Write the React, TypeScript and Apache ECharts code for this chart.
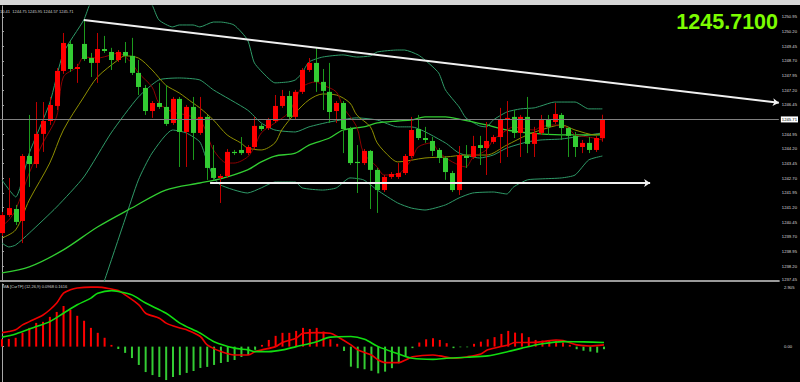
import React, { useEffect, useRef } from 'react';
import * as echarts from 'echarts';

// ---- candles ----
const opens = [1239.90,1240.82,1241.13,1240.52,1243.84,1243.43,1244.97,1245.63,1246.40,1248.19,1249.57,1248.29,1249.57,1248.85,1248.60,1249.31,1249.16,1248.75,1249.16,1248.96,1248.09,1247.32,1246.14,1246.55,1246.35,1245.53,1246.76,1245.07,1246.35,1245.02,1245.84,1243.23,1242.72,1242.82,1244.05,1244.15,1243.99,1244.30,1245.38,1245.27,1245.63,1246.40,1246.91,1245.84,1247.12,1248.24,1248.60,1247.63,1247.12,1246.14,1246.55,1245.22,1243.54,1243.48,1244.10,1243.13,1242.10,1242.77,1242.77,1242.97,1243.84,1245.22,1244.76,1244.61,1244.15,1243.74,1242.97,1242.10,1243.84,1243.79,1244.40,1244.25,1244.56,1244.81,1245.68,1245.84,1245.02,1245.84,1244.46,1245.02,1245.73,1245.58,1245.94,1245.27,1244.87,1244.30,1244.51,1244.15,1244.75];
const closes = [1240.82,1241.18,1240.47,1243.84,1243.43,1244.97,1245.63,1246.45,1248.19,1249.62,1248.29,1248.39,1248.80,1248.60,1249.31,1249.21,1248.75,1249.16,1248.96,1248.09,1247.37,1246.14,1246.55,1246.35,1245.48,1246.76,1245.07,1246.35,1245.02,1245.84,1243.23,1242.72,1242.82,1244.05,1243.99,1243.99,1244.30,1245.38,1245.22,1245.68,1246.40,1246.91,1245.84,1247.12,1248.24,1248.60,1247.63,1247.17,1246.09,1246.55,1245.22,1243.48,1243.48,1244.10,1243.13,1242.10,1242.77,1242.92,1242.97,1243.84,1245.17,1244.76,1244.66,1244.10,1243.74,1243.02,1242.10,1243.89,1243.74,1244.35,1244.25,1244.61,1244.81,1245.73,1245.79,1245.02,1245.84,1244.46,1245.02,1245.68,1245.33,1245.99,1245.27,1244.87,1244.30,1244.51,1244.15,1244.76,1245.71];
const lows = [1239.75,1240.72,1240.31,1239.39,1242.26,1243.23,1244.05,1245.43,1246.19,1248.04,1248.14,1247.58,1248.70,1247.88,1247.58,1249.11,1248.24,1248.65,1248.60,1247.98,1246.96,1245.94,1245.79,1246.25,1245.38,1245.43,1243.28,1243.28,1243.64,1244.92,1242.62,1242.62,1241.44,1242.72,1243.89,1243.89,1243.89,1244.20,1245.12,1245.17,1245.53,1246.30,1245.68,1245.73,1247.01,1248.14,1247.12,1246.19,1245.53,1245.53,1243.99,1243.38,1241.95,1243.38,1241.13,1240.93,1242.00,1242.67,1242.67,1242.87,1243.74,1244.66,1244.51,1243.84,1243.48,1242.62,1242.00,1241.85,1243.23,1243.69,1243.38,1242.87,1244.46,1243.48,1243.79,1244.76,1243.79,1243.99,1243.79,1244.92,1244.92,1245.48,1244.66,1243.79,1243.79,1243.99,1243.99,1244.05,1244.57];
const highs = [1240.98,1242.72,1241.34,1243.94,1245.94,1246.60,1246.60,1246.86,1248.34,1250.13,1249.72,1248.55,1250.80,1249.11,1250.13,1249.98,1249.37,1249.26,1249.67,1249.88,1248.75,1247.47,1246.65,1247.58,1247.47,1246.86,1246.86,1246.45,1246.86,1246.86,1245.94,1244.40,1242.92,1244.20,1244.15,1244.81,1244.40,1245.84,1245.48,1245.79,1246.96,1247.22,1247.17,1247.22,1248.34,1248.85,1249.37,1248.29,1248.60,1246.65,1246.65,1245.33,1244.40,1244.20,1244.15,1243.23,1242.87,1243.02,1243.48,1243.94,1245.84,1245.94,1245.33,1244.81,1244.25,1243.84,1243.08,1244.35,1244.40,1244.87,1244.87,1245.58,1244.92,1246.30,1246.65,1246.19,1245.94,1246.86,1245.33,1245.94,1245.94,1246.55,1246.04,1245.33,1245.07,1244.66,1244.81,1244.87,1245.95];

// ---- indicators, [bar index, value] ----
const bbUpper = [[0,1242.61],[2,1241.75],[4,1243.99],[7,1246.55],[9,1249.11],[12,1250.80],[13,1251.67],[15,1252.23],[17,1252.43],[19,1252.33],[21,1251.92],[22,1251.56],[23,1250.80],[25,1250.44],[26,1250.54],[28,1250.54],[29,1250.44],[31,1250.69],[32,1250.69],[34,1250.54],[36,1249.77],[37,1248.60],[39,1247.83],[40,1247.58],[42,1247.63],[43,1247.73],[44,1248.09],[45,1248.65],[47,1248.90],[50,1249.01],[52,1248.90],[54,1248.96],[55,1249.16],[58,1249.26],[59,1249.26],[61,1249.01],[62,1248.75],[64,1248.09],[65,1247.22],[67,1246.35],[68,1245.79],[70,1245.38],[71,1245.33],[72,1245.68],[74,1246.09],[76,1246.25],[78,1246.30],[79,1246.40],[81,1246.60],[84,1246.60],[86,1246.25],[88,1246.25]];
const bbMiddle = [[0,1239.39],[1,1239.19],[2,1239.29],[4,1239.90],[8,1241.23],[12,1242.77],[16,1245.02],[20,1246.86],[23,1247.73],[26,1247.83],[29,1247.73],[31,1247.22],[36,1246.19],[38,1245.53],[40,1245.17],[43,1245.07],[45,1245.33],[48,1245.58],[52,1245.79],[55,1245.68],[58,1245.33],[60,1245.33],[65,1244.51],[67,1243.99],[70,1243.74],[72,1243.89],[74,1244.25],[77,1244.56],[79,1244.66],[82,1244.71],[84,1244.81],[88,1245.02]];
const bbLower = [[0,1236.48],[6,1234.94],[10,1234.18],[13,1235.46],[15,1237.45],[18,1240.57],[20,1242.62],[22,1243.99],[25,1245.17],[27,1245.02],[29,1244.56],[30,1243.64],[31,1242.77],[32,1242.36],[36,1241.95],[38,1242.21],[40,1242.51],[43,1242.51],[44,1242.21],[47,1242.10],[49,1242.21],[51,1242.72],[53,1242.62],[55,1242.10],[58,1241.44],[60,1241.18],[62,1241.08],[65,1241.34],[67,1241.70],[69,1241.95],[72,1242.00],[74,1241.90],[75,1242.26],[77,1242.62],[79,1242.67],[82,1242.72],[84,1242.87],[86,1243.64],[88,1243.84]];
const maSlow = [[0,1237.86],[4,1238.17],[9,1239.04],[14,1240.21],[19,1241.18],[24,1242.10],[29,1242.46],[32,1242.67],[36,1243.13],[38,1243.54],[40,1243.84],[43,1243.99],[45,1244.40],[48,1244.76],[50,1245.17],[53,1245.33],[55,1245.53],[58,1245.63],[60,1245.68],[62,1245.84],[65,1245.84],[67,1245.73],[71,1245.43],[74,1245.17],[77,1245.02],[82,1244.92],[88,1244.92]];
const maFast = [[0,1240.26],[1,1240.57],[2,1241.08],[4,1242.97],[6,1244.51],[8,1245.84],[9,1247.88],[11,1248.39],[12,1248.90],[14,1248.85],[16,1249.01],[17,1249.11],[19,1248.60],[20,1248.09],[22,1247.37],[23,1246.55],[25,1246.09],[27,1245.94],[29,1245.68],[30,1245.02],[31,1244.15],[33,1243.48],[34,1243.48],[36,1243.79],[37,1244.30],[38,1245.02],[40,1245.53],[42,1246.04],[43,1246.71],[44,1247.37],[46,1247.63],[47,1247.47],[49,1247.12],[50,1246.35],[52,1245.33],[53,1243.99],[55,1243.28],[56,1242.87],[58,1242.92],[60,1243.64],[61,1244.30],[63,1244.51],[64,1244.05],[66,1243.54],[68,1243.28],[69,1243.74],[71,1244.15],[72,1244.66],[74,1245.17],[75,1245.33],[76,1245.27],[78,1245.17],[79,1245.33],[81,1245.43],[83,1245.27],[84,1244.92],[86,1244.81],[88,1244.66]];
const maMid = [[0,1239.65],[2,1240.06],[4,1241.59],[7,1243.48],[9,1245.17],[12,1246.86],[14,1247.88],[17,1248.75],[18,1248.96],[20,1248.85],[22,1248.24],[24,1247.47],[26,1247.06],[28,1246.55],[29,1246.30],[31,1245.68],[33,1244.92],[35,1244.51],[36,1244.25],[38,1244.15],[40,1244.51],[41,1245.17],[43,1246.04],[45,1246.71],[47,1247.01],[49,1246.96],[51,1246.55],[52,1245.94],[54,1245.33],[55,1244.51],[57,1243.74],[58,1243.54],[62,1243.74],[65,1243.79],[68,1243.89],[71,1243.89],[74,1244.40],[77,1244.92],[79,1245.17],[82,1245.43],[84,1245.17],[87,1244.92],[88,1245.02]];

// ---- MACD panel ----
const macdHist = [0.34,0.36,0.41,0.64,0.87,1.10,1.15,1.38,1.61,1.89,1.71,1.43,1.20,0.87,0.64,0.41,0.08,-0.11,-0.29,-0.53,-0.85,-1.18,-1.32,-1.41,-1.55,-1.41,-1.32,-1.22,-1.13,-0.99,-0.94,-0.85,-0.76,-0.71,-0.62,-0.48,-0.39,-0.15,0.08,0.31,0.50,0.64,0.64,0.73,0.87,0.82,0.87,0.70,0.34,0.13,-0.20,-0.93,-1.00,-1.05,-1.12,-1.24,-1.16,-1.00,-0.77,-0.47,-0.07,0.19,0.34,0.39,0.31,0.16,-0.07,-0.03,-0.03,0.13,0.23,0.34,0.44,0.59,0.73,0.65,0.62,0.44,0.31,0.28,0.28,0.28,0.19,0.08,-0.12,-0.19,-0.23,-0.28,-0.12];
const macdRed = [[0,0.65],[1,0.70],[2,0.78],[3,1.01],[4,1.16],[6,1.47],[7,1.71],[8,2.02],[9,2.48],[10,2.64],[11,2.72],[13,2.76],[14,2.76],[16,2.67],[17,2.60],[18,2.40],[20,1.94],[21,1.55],[23,1.32],[24,1.09],[26,0.86],[27,0.78],[29,0.47],[30,0.08],[32,-0.23],[34,-0.39],[36,-0.39],[37,-0.23],[38,-0.15],[40,0.00],[41,0.19],[43,0.39],[44,0.62],[46,0.65],[48,0.62],[49,0.47],[51,0.08],[52,-0.15],[54,-0.39],[55,-0.62],[56,-0.74],[58,-0.74],[59,-0.62],[60,-0.47],[63,-0.39],[64,-0.43],[66,-0.54],[68,-0.47],[70,-0.34],[71,-0.15],[74,0.08],[75,0.19],[77,0.19],[79,0.23],[81,0.31],[82,0.28],[84,0.08],[86,0.03],[88,0.08]];
const macdGreen = [[0,0.44],[2,0.59],[5,0.93],[7,1.16],[9,1.55],[11,1.94],[13,2.25],[14,2.48],[16,2.60],[17,2.56],[19,2.40],[21,2.02],[24,1.55],[26,1.09],[29,0.62],[31,0.23],[34,-0.07],[36,-0.15],[37,-0.23],[39,-0.23],[41,-0.15],[43,0.00],[46,0.23],[48,0.44],[51,0.47],[53,0.34],[55,0.00],[58,-0.34],[60,-0.54],[63,-0.59],[65,-0.54],[68,-0.49],[71,-0.43],[74,-0.23],[76,-0.07],[79,0.13],[82,0.23],[85,0.22],[88,0.19]];

// ---- drawn objects & labels ----
const downTrend = [[12, 1250.80], [113.87, 1246.56]];
const supportLine = [[30.5, 1242.46], [95.0, 1242.46]];
const lastPrice = 1245.71;
const priceTicks = [1237.45,1238.20,1238.95,1239.70,1240.45,1241.20,1241.95,1242.70,1243.45,1244.20,1244.95,1246.45,1247.20,1247.95,1248.70,1249.45,1250.20,1250.95];
const macdTicks = [0, 2.905];
const macdTickLabels = ['0.00', '2.905'];
const ohlcText = '10.41  1244.75 1245.95 1244.57 1245.71';
const macdTitle = 'MA [CurTF] (12,26,9) 0.0968 0.1616';
const bigPrice = '1245.7100';

const X_MIN = -0.29;
const X_MAX = 113.87;
const FONT = "'Liberation Sans', Arial, sans-serif";

export default function App() {
  const ref = useRef<HTMLDivElement>(null);
  useEffect(() => {
    if (!ref.current) return;
    const chart = echarts.init(ref.current, null, { renderer: 'svg' });
    const candles = opens.map((o, i) => [i, o, closes[i], lows[i], highs[i]]);
    const hist = macdHist.map((v, i) => [i, v]);
    const lineS = (name: string, data: number[][], color: string, width: number, smooth = 0.3) => ({
      name, type: 'line', data, xAxisIndex: 0, yAxisIndex: 0, symbol: 'none', smooth,
      lineStyle: { color, width }, clip: true, silent: true, z: 2,
    });
    const bb = '#2f9a68';
    chart.setOption({
      animation: false,
      backgroundColor: '#000000',
      grid: [
        { left: 0, right: 19, top: 6, bottom: 101 },
        { left: 0, right: 19, top: 284, bottom: 0 },
      ],
      xAxis: [
        { type: 'value', gridIndex: 0, min: X_MIN, max: X_MAX, axisLabel: { show: false }, axisTick: { show: false }, splitLine: { show: false },
          axisLine: { show: true, onZero: false, lineStyle: { color: '#9a9a9a', width: 2 } } },
        { type: 'value', gridIndex: 1, min: X_MIN, max: X_MAX, axisLabel: { show: false }, axisTick: { show: false }, splitLine: { show: false }, axisLine: { show: false } },
      ],
      yAxis: [
        { type: 'value', gridIndex: 0, position: 'right', min: 1237.45, max: 1251.51, splitLine: { show: false },
          axisLine: { show: true, lineStyle: { color: '#a8a8a8' } },
          axisTick: { show: true, length: 2, customValues: priceTicks, lineStyle: { color: '#a8a8a8' } },
          axisLabel: { customValues: priceTicks, formatter: (v: number) => (v === 1237.45 ? '{lo|' + v.toFixed(2) + '}' : v.toFixed(2)), fontSize: 4.2, color: '#dcdcdc', margin: 3, fontFamily: FONT,
            rich: { lo: { fontSize: 4.2, color: '#dcdcdc', fontFamily: FONT, padding: [0, 0, 3, 0] } } } },
        { type: 'value', gridIndex: 1, position: 'right', min: -1.641, max: 2.905, splitLine: { show: false },
          axisLine: { show: true, lineStyle: { color: '#a8a8a8' } },
          axisTick: { show: true, length: 2, customValues: macdTicks, lineStyle: { color: '#a8a8a8' } },
          axisLabel: { customValues: macdTicks, formatter: (v: number) => {
              const t = macdTickLabels[macdTicks.indexOf(v)] ?? String(v);
              return v === 2.905 ? '{hi|' + t + '}' : t;
            }, fontSize: 4.2, color: '#dcdcdc', margin: 3, fontFamily: FONT,
            rich: { hi: { fontSize: 4.2, color: '#dcdcdc', fontFamily: FONT, padding: [6, 0, 0, 0] } } } },
      ],
      series: [
        lineS('BB upper', bbUpper, bb, 1, 0.2),
        lineS('BB middle', bbMiddle, bb, 1, 0.2),
        lineS('BB lower', bbLower, bb, 1, 0.2),
        { ...lineS('MA slow', maSlow, '#32cd32', 1.3),
          markLine: { silent: true, symbol: 'none', animation: false,
            lineStyle: { color: '#808080', width: 1, type: 'solid' },
            label: { show: true, position: 'end', distance: 2, formatter: String(lastPrice), color: '#000', backgroundColor: '#ffffff', fontSize: 4.2, padding: [1, 1], fontFamily: FONT },
            data: [{ yAxis: lastPrice }] } },
        lineS('MA mid', maMid, '#8f8f00', 1),
        lineS('MA fast', maFast, '#8b0000', 1),
        {
          name: 'Candles', type: 'custom', xAxisIndex: 0, yAxisIndex: 0, clip: true, z: 3,
          data: candles,
          encode: { x: 0, y: [1, 2, 3, 4] },
          renderItem: (params: any, api: any) => {
            const i = api.value(0), o = api.value(1), c = api.value(2), l = api.value(3), h = api.value(4);
            const pO = api.coord([i, o]);
            const pC = api.coord([i, c]);
            const pL = api.coord([i, l]);
            const pH = api.coord([i, h]);
            const w = Math.max(2, Math.round(api.size([1, 0])[0] * 0.72));
            const up = c >= o;
            const cx = Math.round(pO[0]);
            const top = Math.min(pO[1], pC[1]);
            const hgt = Math.max(1, Math.abs(pO[1] - pC[1]));
            return {
              type: 'group',
              children: [
                { type: 'line', shape: { x1: cx + 0.5, y1: pH[1], x2: cx + 0.5, y2: pL[1] }, style: { stroke: up ? '#c00000' : '#1c9a1c', lineWidth: 1 } },
                { type: 'rect', shape: { x: cx + 0.5 - w / 2, y: top, width: w, height: hgt }, style: { fill: up ? '#ff0000' : '#33cc33' } },
              ],
            };
          },
        },
        {
          name: 'Trend', type: 'lines', coordinateSystem: 'cartesian2d', xAxisIndex: 0, yAxisIndex: 0, z: 4,
          symbol: ['none', 'arrow'], symbolSize: 6, silent: true,
          lineStyle: { color: '#f0f0f0', width: 2, opacity: 1 },
          data: [{ coords: downTrend }, { coords: supportLine }],
        },
        {
          name: 'Histogram', type: 'bar', xAxisIndex: 1, yAxisIndex: 1, data: hist, barWidth: 2, silent: true,
          itemStyle: { color: (p: any) => (p.value[1] >= 0 ? '#ff0000' : '#33cc33') },
        },
        { name: 'MACD red', type: 'line', xAxisIndex: 1, yAxisIndex: 1, data: macdRed, symbol: 'none', smooth: 0.3, lineStyle: { color: '#ee0000', width: 1.6 }, silent: true, z: 3 },
        { name: 'MACD green', type: 'line', xAxisIndex: 1, yAxisIndex: 1, data: macdGreen, symbol: 'none', smooth: 0.3, lineStyle: { color: '#11dd11', width: 1.6 }, silent: true, z: 3 },
      ],
      graphic: [
        { type: 'rect', left: 0, top: 0, z: 10, shape: { width: 800, height: 5 }, style: { fill: '#d6d6d6' } },
        { type: 'text', left: 0, top: 9, z: 10, style: { text: ohlcText, fill: '#d0d0d0', fontSize: 4, fontFamily: FONT } },
        { type: 'text', left: 3, top: 284, z: 10, style: { text: macdTitle, fill: '#d0d0d0', fontSize: 4, fontFamily: FONT } },
        { type: 'text', right: 22, top: 10.5, z: 10, style: { text: bigPrice, fill: '#7cfc00', fontSize: 21.5, fontWeight: 'bold', fontFamily: FONT } },
      ],
    });
    return () => chart.dispose();
  }, []);
  return <div ref={ref} style={{ position: 'fixed', left: 0, top: 0, width: 800, height: 382, background: '#000' }} />;
}
